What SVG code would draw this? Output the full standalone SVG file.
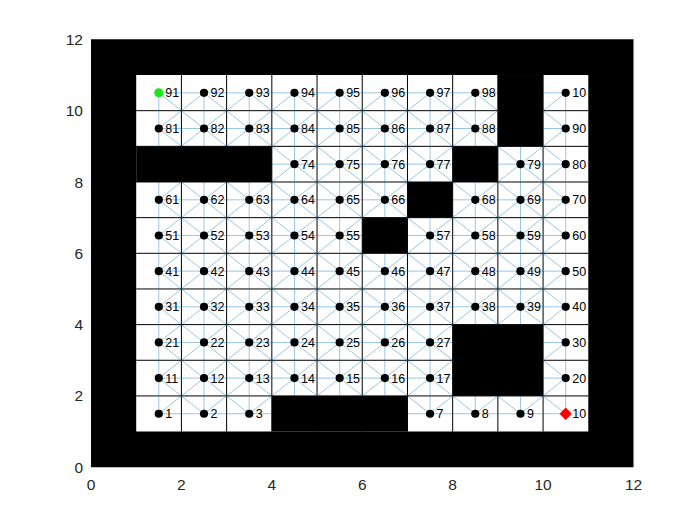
<svg xmlns="http://www.w3.org/2000/svg" width="700" height="525" viewBox="0 0 700 525">
<style>
.ax{font-family:"Liberation Sans",Arial,sans-serif;font-size:15.5px;fill:#262626}
.yt{text-anchor:end}
.xt{text-anchor:middle}
.g line{stroke:#000;stroke-width:1;vector-effect:non-scaling-stroke}
.c line{stroke:#0072BD;stroke-opacity:0.45;stroke-width:0.9;vector-effect:non-scaling-stroke}
.n circle{fill:#000}
.n text{font-family:"Liberation Sans",Arial,sans-serif;font-size:12.5px;fill:#000}
</style>
<rect width="700" height="525" fill="#fff"/>
<g id="plot" transform="matrix(45.2083 0 0 -35.6563 91 467.25)">
<rect x="1" y="1" width="10" height="10" fill="#fff"/>
<g id="grid" class="g">
<line x1="2" y1="1" x2="2" y2="11"/><line x1="3" y1="1" x2="3" y2="11"/><line x1="4" y1="1" x2="4" y2="11"/><line x1="5" y1="1" x2="5" y2="11"/><line x1="6" y1="1" x2="6" y2="11"/><line x1="7" y1="1" x2="7" y2="11"/><line x1="8" y1="1" x2="8" y2="11"/><line x1="9" y1="1" x2="9" y2="11"/><line x1="10" y1="1" x2="10" y2="11"/>
<line x1="1" y1="2" x2="11" y2="2"/><line x1="1" y1="3" x2="11" y2="3"/><line x1="1" y1="4" x2="11" y2="4"/><line x1="1" y1="5" x2="11" y2="5"/><line x1="1" y1="6" x2="11" y2="6"/><line x1="1" y1="7" x2="11" y2="7"/><line x1="1" y1="8" x2="11" y2="8"/><line x1="1" y1="9" x2="11" y2="9"/><line x1="1" y1="10" x2="11" y2="10"/>
</g>
<g id="connectors" class="c">
<line x1="1.5" y1="1.5" x2="10.5" y2="1.5"/><line x1="1.5" y1="2.5" x2="10.5" y2="2.5"/><line x1="1.5" y1="3.5" x2="10.5" y2="3.5"/><line x1="1.5" y1="4.5" x2="10.5" y2="4.5"/><line x1="1.5" y1="5.5" x2="10.5" y2="5.5"/><line x1="1.5" y1="6.5" x2="10.5" y2="6.5"/><line x1="1.5" y1="7.5" x2="10.5" y2="7.5"/><line x1="1.5" y1="8.5" x2="10.5" y2="8.5"/><line x1="1.5" y1="9.5" x2="10.5" y2="9.5"/><line x1="1.5" y1="10.5" x2="10.5" y2="10.5"/>
<line x1="1.5" y1="1.5" x2="1.5" y2="10.5"/><line x1="2.5" y1="1.5" x2="2.5" y2="10.5"/><line x1="3.5" y1="1.5" x2="3.5" y2="10.5"/><line x1="4.5" y1="1.5" x2="4.5" y2="10.5"/><line x1="5.5" y1="1.5" x2="5.5" y2="10.5"/><line x1="6.5" y1="1.5" x2="6.5" y2="10.5"/><line x1="7.5" y1="1.5" x2="7.5" y2="10.5"/><line x1="8.5" y1="1.5" x2="8.5" y2="10.5"/><line x1="9.5" y1="1.5" x2="9.5" y2="10.5"/><line x1="10.5" y1="1.5" x2="10.5" y2="10.5"/>
<line x1="1.5" y1="9.5" x2="2.5" y2="10.5"/><line x1="1.5" y1="8.5" x2="3.5" y2="10.5"/><line x1="1.5" y1="7.5" x2="4.5" y2="10.5"/><line x1="1.5" y1="6.5" x2="5.5" y2="10.5"/><line x1="1.5" y1="5.5" x2="6.5" y2="10.5"/><line x1="1.5" y1="4.5" x2="7.5" y2="10.5"/><line x1="1.5" y1="3.5" x2="8.5" y2="10.5"/><line x1="1.5" y1="2.5" x2="9.5" y2="10.5"/><line x1="1.5" y1="1.5" x2="10.5" y2="10.5"/><line x1="2.5" y1="1.5" x2="10.5" y2="9.5"/><line x1="3.5" y1="1.5" x2="10.5" y2="8.5"/><line x1="4.5" y1="1.5" x2="10.5" y2="7.5"/><line x1="5.5" y1="1.5" x2="10.5" y2="6.5"/><line x1="6.5" y1="1.5" x2="10.5" y2="5.5"/><line x1="7.5" y1="1.5" x2="10.5" y2="4.5"/><line x1="8.5" y1="1.5" x2="10.5" y2="3.5"/><line x1="9.5" y1="1.5" x2="10.5" y2="2.5"/>
<line x1="1.5" y1="2.5" x2="2.5" y2="1.5"/><line x1="1.5" y1="3.5" x2="3.5" y2="1.5"/><line x1="1.5" y1="4.5" x2="4.5" y2="1.5"/><line x1="1.5" y1="5.5" x2="5.5" y2="1.5"/><line x1="1.5" y1="6.5" x2="6.5" y2="1.5"/><line x1="1.5" y1="7.5" x2="7.5" y2="1.5"/><line x1="1.5" y1="8.5" x2="8.5" y2="1.5"/><line x1="1.5" y1="9.5" x2="9.5" y2="1.5"/><line x1="1.5" y1="10.5" x2="10.5" y2="1.5"/><line x1="2.5" y1="10.5" x2="10.5" y2="2.5"/><line x1="3.5" y1="10.5" x2="10.5" y2="3.5"/><line x1="4.5" y1="10.5" x2="10.5" y2="4.5"/><line x1="5.5" y1="10.5" x2="10.5" y2="5.5"/><line x1="6.5" y1="10.5" x2="10.5" y2="6.5"/><line x1="7.5" y1="10.5" x2="10.5" y2="7.5"/><line x1="8.5" y1="10.5" x2="10.5" y2="8.5"/><line x1="9.5" y1="10.5" x2="10.5" y2="9.5"/>
</g>
</g>
<g id="nodes" class="n">
<g id="n1" transform="translate(158.81,413.77)"><circle r="4.1"/><text x="6.5" y="4.5">1</text></g>
<g id="n2" transform="translate(204.02,413.77)"><circle r="4.1"/><text x="6.5" y="4.5">2</text></g>
<g id="n3" transform="translate(249.23,413.77)"><circle r="4.1"/><text x="6.5" y="4.5">3</text></g>
<g id="n7" transform="translate(430.06,413.77)"><circle r="4.1"/><text x="6.5" y="4.5">7</text></g>
<g id="n8" transform="translate(475.27,413.77)"><circle r="4.1"/><text x="6.5" y="4.5">8</text></g>
<g id="n9" transform="translate(520.48,413.77)"><circle r="4.1"/><text x="6.5" y="4.5">9</text></g>
<g id="n10" transform="translate(565.69,413.77)"><path d="M0,-6.2L6.2,0L0,6.2L-6.2,0Z" fill="#f00"/><text x="6.5" y="4.5">10</text></g>
<g id="n11" transform="translate(158.81,378.11)"><circle r="4.1"/><text x="6.5" y="4.5">11</text></g>
<g id="n12" transform="translate(204.02,378.11)"><circle r="4.1"/><text x="6.5" y="4.5">12</text></g>
<g id="n13" transform="translate(249.23,378.11)"><circle r="4.1"/><text x="6.5" y="4.5">13</text></g>
<g id="n14" transform="translate(294.44,378.11)"><circle r="4.1"/><text x="6.5" y="4.5">14</text></g>
<g id="n15" transform="translate(339.65,378.11)"><circle r="4.1"/><text x="6.5" y="4.5">15</text></g>
<g id="n16" transform="translate(384.85,378.11)"><circle r="4.1"/><text x="6.5" y="4.5">16</text></g>
<g id="n17" transform="translate(430.06,378.11)"><circle r="4.1"/><text x="6.5" y="4.5">17</text></g>
<g id="n20" transform="translate(565.69,378.11)"><circle r="4.1"/><text x="6.5" y="4.5">20</text></g>
<g id="n21" transform="translate(158.81,342.46)"><circle r="4.1"/><text x="6.5" y="4.5">21</text></g>
<g id="n22" transform="translate(204.02,342.46)"><circle r="4.1"/><text x="6.5" y="4.5">22</text></g>
<g id="n23" transform="translate(249.23,342.46)"><circle r="4.1"/><text x="6.5" y="4.5">23</text></g>
<g id="n24" transform="translate(294.44,342.46)"><circle r="4.1"/><text x="6.5" y="4.5">24</text></g>
<g id="n25" transform="translate(339.65,342.46)"><circle r="4.1"/><text x="6.5" y="4.5">25</text></g>
<g id="n26" transform="translate(384.85,342.46)"><circle r="4.1"/><text x="6.5" y="4.5">26</text></g>
<g id="n27" transform="translate(430.06,342.46)"><circle r="4.1"/><text x="6.5" y="4.5">27</text></g>
<g id="n30" transform="translate(565.69,342.46)"><circle r="4.1"/><text x="6.5" y="4.5">30</text></g>
<g id="n31" transform="translate(158.81,306.80)"><circle r="4.1"/><text x="6.5" y="4.5">31</text></g>
<g id="n32" transform="translate(204.02,306.80)"><circle r="4.1"/><text x="6.5" y="4.5">32</text></g>
<g id="n33" transform="translate(249.23,306.80)"><circle r="4.1"/><text x="6.5" y="4.5">33</text></g>
<g id="n34" transform="translate(294.44,306.80)"><circle r="4.1"/><text x="6.5" y="4.5">34</text></g>
<g id="n35" transform="translate(339.65,306.80)"><circle r="4.1"/><text x="6.5" y="4.5">35</text></g>
<g id="n36" transform="translate(384.85,306.80)"><circle r="4.1"/><text x="6.5" y="4.5">36</text></g>
<g id="n37" transform="translate(430.06,306.80)"><circle r="4.1"/><text x="6.5" y="4.5">37</text></g>
<g id="n38" transform="translate(475.27,306.80)"><circle r="4.1"/><text x="6.5" y="4.5">38</text></g>
<g id="n39" transform="translate(520.48,306.80)"><circle r="4.1"/><text x="6.5" y="4.5">39</text></g>
<g id="n40" transform="translate(565.69,306.80)"><circle r="4.1"/><text x="6.5" y="4.5">40</text></g>
<g id="n41" transform="translate(158.81,271.14)"><circle r="4.1"/><text x="6.5" y="4.5">41</text></g>
<g id="n42" transform="translate(204.02,271.14)"><circle r="4.1"/><text x="6.5" y="4.5">42</text></g>
<g id="n43" transform="translate(249.23,271.14)"><circle r="4.1"/><text x="6.5" y="4.5">43</text></g>
<g id="n44" transform="translate(294.44,271.14)"><circle r="4.1"/><text x="6.5" y="4.5">44</text></g>
<g id="n45" transform="translate(339.65,271.14)"><circle r="4.1"/><text x="6.5" y="4.5">45</text></g>
<g id="n46" transform="translate(384.85,271.14)"><circle r="4.1"/><text x="6.5" y="4.5">46</text></g>
<g id="n47" transform="translate(430.06,271.14)"><circle r="4.1"/><text x="6.5" y="4.5">47</text></g>
<g id="n48" transform="translate(475.27,271.14)"><circle r="4.1"/><text x="6.5" y="4.5">48</text></g>
<g id="n49" transform="translate(520.48,271.14)"><circle r="4.1"/><text x="6.5" y="4.5">49</text></g>
<g id="n50" transform="translate(565.69,271.14)"><circle r="4.1"/><text x="6.5" y="4.5">50</text></g>
<g id="n51" transform="translate(158.81,235.49)"><circle r="4.1"/><text x="6.5" y="4.5">51</text></g>
<g id="n52" transform="translate(204.02,235.49)"><circle r="4.1"/><text x="6.5" y="4.5">52</text></g>
<g id="n53" transform="translate(249.23,235.49)"><circle r="4.1"/><text x="6.5" y="4.5">53</text></g>
<g id="n54" transform="translate(294.44,235.49)"><circle r="4.1"/><text x="6.5" y="4.5">54</text></g>
<g id="n55" transform="translate(339.65,235.49)"><circle r="4.1"/><text x="6.5" y="4.5">55</text></g>
<g id="n57" transform="translate(430.06,235.49)"><circle r="4.1"/><text x="6.5" y="4.5">57</text></g>
<g id="n58" transform="translate(475.27,235.49)"><circle r="4.1"/><text x="6.5" y="4.5">58</text></g>
<g id="n59" transform="translate(520.48,235.49)"><circle r="4.1"/><text x="6.5" y="4.5">59</text></g>
<g id="n60" transform="translate(565.69,235.49)"><circle r="4.1"/><text x="6.5" y="4.5">60</text></g>
<g id="n61" transform="translate(158.81,199.83)"><circle r="4.1"/><text x="6.5" y="4.5">61</text></g>
<g id="n62" transform="translate(204.02,199.83)"><circle r="4.1"/><text x="6.5" y="4.5">62</text></g>
<g id="n63" transform="translate(249.23,199.83)"><circle r="4.1"/><text x="6.5" y="4.5">63</text></g>
<g id="n64" transform="translate(294.44,199.83)"><circle r="4.1"/><text x="6.5" y="4.5">64</text></g>
<g id="n65" transform="translate(339.65,199.83)"><circle r="4.1"/><text x="6.5" y="4.5">65</text></g>
<g id="n66" transform="translate(384.85,199.83)"><circle r="4.1"/><text x="6.5" y="4.5">66</text></g>
<g id="n68" transform="translate(475.27,199.83)"><circle r="4.1"/><text x="6.5" y="4.5">68</text></g>
<g id="n69" transform="translate(520.48,199.83)"><circle r="4.1"/><text x="6.5" y="4.5">69</text></g>
<g id="n70" transform="translate(565.69,199.83)"><circle r="4.1"/><text x="6.5" y="4.5">70</text></g>
<g id="n74" transform="translate(294.44,164.18)"><circle r="4.1"/><text x="6.5" y="4.5">74</text></g>
<g id="n75" transform="translate(339.65,164.18)"><circle r="4.1"/><text x="6.5" y="4.5">75</text></g>
<g id="n76" transform="translate(384.85,164.18)"><circle r="4.1"/><text x="6.5" y="4.5">76</text></g>
<g id="n77" transform="translate(430.06,164.18)"><circle r="4.1"/><text x="6.5" y="4.5">77</text></g>
<g id="n79" transform="translate(520.48,164.18)"><circle r="4.1"/><text x="6.5" y="4.5">79</text></g>
<g id="n80" transform="translate(565.69,164.18)"><circle r="4.1"/><text x="6.5" y="4.5">80</text></g>
<g id="n81" transform="translate(158.81,128.52)"><circle r="4.1"/><text x="6.5" y="4.5">81</text></g>
<g id="n82" transform="translate(204.02,128.52)"><circle r="4.1"/><text x="6.5" y="4.5">82</text></g>
<g id="n83" transform="translate(249.23,128.52)"><circle r="4.1"/><text x="6.5" y="4.5">83</text></g>
<g id="n84" transform="translate(294.44,128.52)"><circle r="4.1"/><text x="6.5" y="4.5">84</text></g>
<g id="n85" transform="translate(339.65,128.52)"><circle r="4.1"/><text x="6.5" y="4.5">85</text></g>
<g id="n86" transform="translate(384.85,128.52)"><circle r="4.1"/><text x="6.5" y="4.5">86</text></g>
<g id="n87" transform="translate(430.06,128.52)"><circle r="4.1"/><text x="6.5" y="4.5">87</text></g>
<g id="n88" transform="translate(475.27,128.52)"><circle r="4.1"/><text x="6.5" y="4.5">88</text></g>
<g id="n90" transform="translate(565.69,128.52)"><circle r="4.1"/><text x="6.5" y="4.5">90</text></g>
<g id="n91" transform="translate(158.81,92.87)"><circle r="4.6" style="fill:#1ee61e"/><text x="6.5" y="4.5">91</text></g>
<g id="n92" transform="translate(204.02,92.87)"><circle r="4.1"/><text x="6.5" y="4.5">92</text></g>
<g id="n93" transform="translate(249.23,92.87)"><circle r="4.1"/><text x="6.5" y="4.5">93</text></g>
<g id="n94" transform="translate(294.44,92.87)"><circle r="4.1"/><text x="6.5" y="4.5">94</text></g>
<g id="n95" transform="translate(339.65,92.87)"><circle r="4.1"/><text x="6.5" y="4.5">95</text></g>
<g id="n96" transform="translate(384.85,92.87)"><circle r="4.1"/><text x="6.5" y="4.5">96</text></g>
<g id="n97" transform="translate(430.06,92.87)"><circle r="4.1"/><text x="6.5" y="4.5">97</text></g>
<g id="n98" transform="translate(475.27,92.87)"><circle r="4.1"/><text x="6.5" y="4.5">98</text></g>
<g id="n100" transform="translate(565.69,92.87)"><circle r="4.1"/><text x="6.5" y="4.5">10</text></g>
</g>
<g id="obstacles" transform="matrix(45.2083 0 0 -35.6563 91 467.25)" fill="#000">
<rect x="4" y="1" width="3" height="1"/>
<rect x="8" y="2" width="2" height="2"/>
<rect x="6" y="6" width="1" height="1"/>
<rect x="7" y="7" width="1" height="1"/>
<rect x="1" y="8" width="3" height="1"/>
<rect x="8" y="8" width="1" height="1"/>
<rect x="9" y="9" width="1" height="2"/>
<path d="M0 0H12V12H0ZM1 1V11H11V1Z" fill-rule="evenodd"/>
</g>
<g id="axes" class="ax">
<text class="xt" x="91" y="490">0</text>
<text class="xt" x="181.42" y="490">2</text>
<text class="xt" x="271.83" y="490">4</text>
<text class="xt" x="362.25" y="490">6</text>
<text class="xt" x="452.67" y="490">8</text>
<text class="xt" x="543.08" y="490">10</text>
<text class="xt" x="633.5" y="490">12</text>
<text class="yt" x="83" y="472.8">0</text>
<text class="yt" x="83" y="401.4">2</text>
<text class="yt" x="83" y="330.1">4</text>
<text class="yt" x="83" y="258.8">6</text>
<text class="yt" x="83" y="187.5">8</text>
<text class="yt" x="83" y="116.2">10</text>
<text class="yt" x="83" y="44.9">12</text>
</g>
</svg>
